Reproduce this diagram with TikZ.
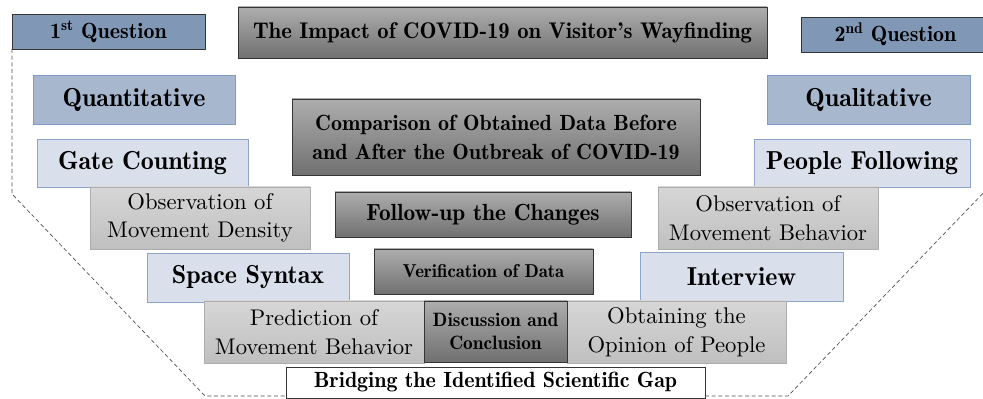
\documentclass[tikz,border=0pt]{standalone}
\usepackage{fontspec}
\newfontfamily\regten{lmroman10-regular}[Extension=.otf]
\newcommand\bft{\fontseries{b}\selectfont}
\definecolor{qfill}{HTML}{8097B5}
\definecolor{mfill}{HTML}{A7B7CD}
\definecolor{mline}{HTML}{7F9CC4}
\definecolor{lfill}{HTML}{D9E0EC}
\definecolor{lline}{HTML}{8EA3C8}
\definecolor{gline}{HTML}{ADADAD}
\definecolor{dline}{HTML}{353535}
\newcommand\bx[7]{\node[#1, minimum width={(#4-#2)*0.75pt}, minimum height={(#5-#3)*0.75pt}] (#6) at ({(#2+#4)/2},{(#3+#5)/2}) {#7};}
\begin{document}
\begin{tikzpicture}[x=0.75pt,y=-0.75pt,
  base/.style={rectangle, inner sep=0pt, outer sep=0pt, align=center, line width=0.7pt},
  qbox/.style={base, draw=dline, fill=qfill, font=\bft\fontsize{16.5}{18}\selectfont},
  mbox/.style={base, draw=mline, fill=mfill, font=\bft\fontsize{19.5}{22}\selectfont},
  lbox/.style={base, draw=lline, fill=lfill, font=\bft\fontsize{19.5}{22}\selectfont},
  gbox/.style={base, draw=gline, top color=black!16, bottom color=black!25, font=\regten\fontsize{17}{21.5}\selectfont},
  dbox/.style={base, draw=dline, top color=black!32, bottom color=black!56},
  wbox/.style={base, draw=dline, fill=white, font=\bft\fontsize{16.5}{18}\selectfont},
  outline/.style={densely dashed, line width=0.5pt, draw=black!70}
]
\useasboundingbox (0,0) rectangle (983,399);
% dark central boxes
\bx{dbox, font=\bft\fontsize{17}{20}\selectfont}{238}{7}{767}{58}{title}{The Impact of COVID-19 on Visitor’s Wayfinding}
\bx{dbox, font=\bft\fontsize{16.5}{21.75}\selectfont}{292}{99}{700}{175}{comp}{Comparison of Obtained Data Before\\and After the Outbreak of COVID-19}
\bx{dbox, font=\bft\fontsize{17.5}{19}\selectfont}{335}{192}{631}{237}{follow}{Follow-up the Changes}
\bx{dbox, font=\bft\fontsize{14}{16}\selectfont}{374}{249}{593}{294}{verif}{Verification of Data}
% question boxes
\bx{qbox}{12}{14}{205}{49}{q1}{1\textsuperscript{st} Question}
\bx{qbox}{801}{17}{990}{52}{q2}{2\textsuperscript{nd} Question}
% methods
\bx{mbox}{33}{75}{235}{124}{quant}{Quantitative}
\bx{mbox}{767}{75}{970}{124}{qual}{Qualitative}
\bx{lbox}{37}{139}{248}{187}{gate}{Gate Counting}
\bx{lbox}{754}{139}{970}{187}{people}{People Following}
\bx{gbox}{90}{187}{310}{249}{obsd}{Observation of\\Movement Density}
\bx{gbox}{658}{187}{878}{249}{obsb}{Observation of\\Movement Behavior}
\bx{lbox}{147}{253}{349}{302}{space}{Space Syntax}
\bx{lbox}{640}{252}{843}{301}{inter}{Interview}
\bx{gbox}{204}{301}{424}{363}{pred}{Prediction of\\Movement Behavior}
\bx{gbox}{567}{301}{786}{363}{opin}{Obtaining the\\Opinion of People}
\bx{dbox, font=\bft\fontsize{14.5}{17.25}\selectfont}{424}{301}{567}{362}{disc}{Discussion and\\Conclusion}
\bx{wbox}{286}{367}{705}{398}{bridge}{Bridging the Identified Scientific Gap}
% dashed outline
\coordinate (l1) at (12,194);
\coordinate (l2) at (205,396);
\coordinate (r1) at (788,396);
\coordinate (r2) at (990,186);
\draw[outline] (q1.south west) -- (l1) -- (l2) -- (bridge.west |- l2);
\draw[outline] (bridge.east |- r1) -- (r1) -- (r2);
\end{tikzpicture}
\end{document}
